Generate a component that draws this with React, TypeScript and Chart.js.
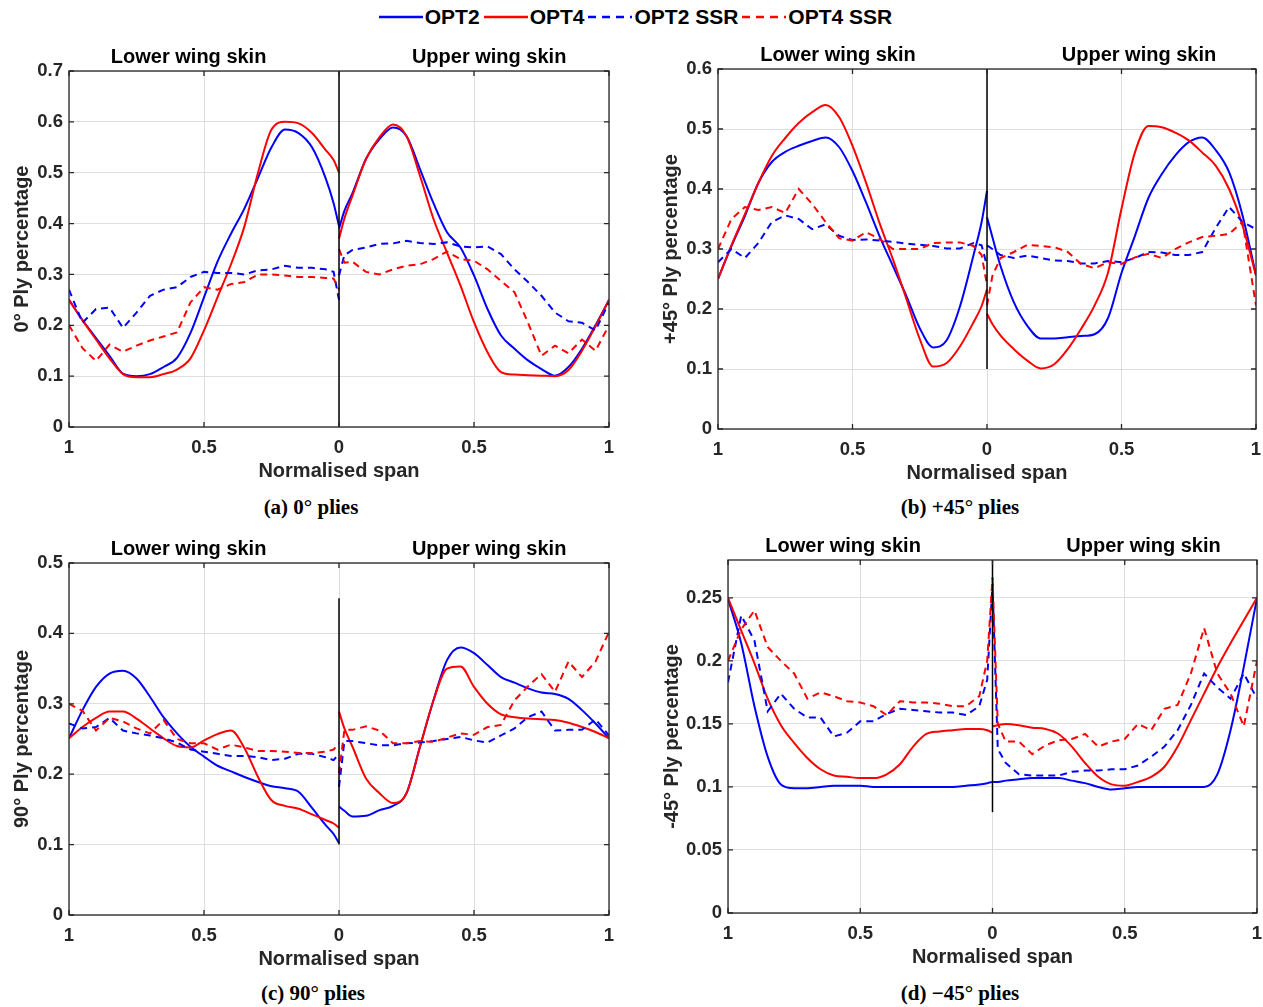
import React, { useEffect, useRef } from "react";
import { Chart, registerables } from "chart.js";

Chart.register(...registerables);

// Normalised span sample positions: lower skin (negative side, drawn as 1..0) then upper skin (0..1)
const SPAN = [
  -1, -0.95, -0.9, -0.85, -0.8, -0.75, -0.7, -0.65, -0.6, -0.55, -0.5, -0.45, -0.4, -0.35, -0.3, -0.25, -0.2, -0.15, -0.1, -0.05, -0.02, 0,
  0, 0.02, 0.05, 0.1, 0.15, 0.2, 0.25, 0.3, 0.35, 0.4, 0.45, 0.5, 0.55, 0.6, 0.65, 0.7, 0.75, 0.8, 0.85, 0.9, 0.95, 1,
];

const SERIES_NAMES = ["OPT2", "OPT4", "OPT2 SSR", "OPT4 SSR"];

// (a) 0° plies
const A_OPT2 = [0.25, 0.21, 0.175, 0.14, 0.105, 0.1, 0.104, 0.118, 0.136, 0.185, 0.255, 0.325, 0.38, 0.43, 0.49, 0.55, 0.585, 0.578, 0.55, 0.49, 0.44, 0.395,
  0.39, 0.425, 0.46, 0.527, 0.566, 0.589, 0.572, 0.507, 0.44, 0.383, 0.353, 0.298, 0.232, 0.18, 0.154, 0.131, 0.114, 0.101, 0.118, 0.154, 0.2, 0.25];
const A_OPT4 = [0.25, 0.21, 0.172, 0.135, 0.104, 0.098, 0.098, 0.104, 0.113, 0.135, 0.19, 0.255, 0.32, 0.395, 0.5, 0.585, 0.6, 0.597, 0.578, 0.545, 0.525, 0.5,
  0.37, 0.41, 0.455, 0.527, 0.57, 0.595, 0.572, 0.494, 0.409, 0.343, 0.278, 0.206, 0.147, 0.108, 0.103, 0.102, 0.101, 0.1, 0.112, 0.15, 0.198, 0.25];
const A_OPT2_SSR = [0.27, 0.205, 0.232, 0.235, 0.195, 0.225, 0.258, 0.27, 0.275, 0.295, 0.305, 0.303, 0.303, 0.3, 0.308, 0.31, 0.317, 0.313, 0.313, 0.31, 0.305, 0.25,
  0.298, 0.338, 0.348, 0.353, 0.36, 0.361, 0.366, 0.362, 0.36, 0.363, 0.355, 0.353, 0.355, 0.34, 0.31, 0.285, 0.258, 0.225, 0.208, 0.205, 0.19, 0.245];
const A_OPT4_SSR = [0.2, 0.155, 0.13, 0.162, 0.148, 0.16, 0.17, 0.178, 0.186, 0.245, 0.275, 0.27, 0.281, 0.285, 0.3, 0.3, 0.298, 0.295, 0.295, 0.293, 0.292, 0.27,
  0.35, 0.323, 0.325, 0.305, 0.3, 0.31, 0.317, 0.32, 0.33, 0.345, 0.33, 0.327, 0.31, 0.287, 0.265, 0.205, 0.14, 0.16, 0.145, 0.172, 0.15, 0.2];

// (b) +45° plies
const B_OPT2 = [0.25, 0.305, 0.355, 0.41, 0.445, 0.462, 0.472, 0.48, 0.486, 0.47, 0.43, 0.378, 0.322, 0.272, 0.222, 0.168, 0.136, 0.148, 0.205, 0.29, 0.345, 0.397,
  0.353, 0.32, 0.272, 0.211, 0.172, 0.151, 0.151, 0.153, 0.155, 0.158, 0.185, 0.26, 0.322, 0.385, 0.425, 0.456, 0.478, 0.486, 0.465, 0.428, 0.356, 0.256];
const B_OPT4 = [0.25, 0.306, 0.358, 0.41, 0.455, 0.485, 0.51, 0.528, 0.54, 0.52, 0.472, 0.411, 0.344, 0.283, 0.217, 0.15, 0.104, 0.11, 0.138, 0.178, 0.205, 0.233,
  0.192, 0.175, 0.156, 0.133, 0.114, 0.101, 0.108, 0.133, 0.167, 0.206, 0.261, 0.367, 0.461, 0.505, 0.503, 0.494, 0.481, 0.461, 0.439, 0.4, 0.339, 0.256];
const B_OPT2_SSR = [0.278, 0.3, 0.285, 0.31, 0.345, 0.356, 0.35, 0.333, 0.341, 0.322, 0.315, 0.316, 0.314, 0.312, 0.309, 0.307, 0.305, 0.301, 0.301, 0.31, 0.306, 0.272,
  0.306, 0.3, 0.29, 0.285, 0.289, 0.285, 0.281, 0.28, 0.276, 0.276, 0.28, 0.278, 0.285, 0.295, 0.294, 0.29, 0.29, 0.295, 0.335, 0.37, 0.345, 0.333];
const B_OPT4_SSR = [0.3, 0.35, 0.37, 0.365, 0.37, 0.36, 0.4, 0.375, 0.345, 0.318, 0.314, 0.328, 0.317, 0.3, 0.3, 0.3, 0.31, 0.311, 0.311, 0.305, 0.29, 0.24,
  0.206, 0.255, 0.285, 0.295, 0.307, 0.305, 0.303, 0.295, 0.275, 0.268, 0.278, 0.275, 0.286, 0.292, 0.285, 0.3, 0.311, 0.32, 0.322, 0.325, 0.345, 0.206];

// (c) 90° plies
const C_OPT2 = [0.251, 0.291, 0.324, 0.343, 0.347, 0.336, 0.31, 0.281, 0.258, 0.239, 0.225, 0.212, 0.204, 0.196, 0.189, 0.183, 0.18, 0.175, 0.152, 0.128, 0.115, 0.102,
  0.154, 0.148, 0.14, 0.141, 0.149, 0.155, 0.173, 0.239, 0.305, 0.362, 0.38, 0.372, 0.355, 0.338, 0.33, 0.322, 0.316, 0.314, 0.307, 0.291, 0.272, 0.251];
const C_OPT4 = [0.251, 0.267, 0.28, 0.289, 0.289, 0.279, 0.265, 0.251, 0.24, 0.238, 0.248, 0.257, 0.262, 0.237, 0.196, 0.163, 0.155, 0.151, 0.143, 0.135, 0.13, 0.124,
  0.289, 0.265, 0.239, 0.194, 0.173, 0.159, 0.173, 0.239, 0.305, 0.35, 0.353, 0.324, 0.3, 0.285, 0.281, 0.279, 0.278, 0.277, 0.273, 0.267, 0.26, 0.251];
const C_OPT2_SSR = [0.272, 0.265, 0.267, 0.28, 0.262, 0.258, 0.255, 0.251, 0.245, 0.235, 0.232, 0.229, 0.226, 0.226, 0.224, 0.22, 0.222, 0.229, 0.229, 0.224, 0.22, 0.229,
  0.182, 0.247, 0.247, 0.244, 0.241, 0.241, 0.244, 0.245, 0.247, 0.25, 0.253, 0.248, 0.245, 0.255, 0.265, 0.281, 0.289, 0.262, 0.263, 0.263, 0.278, 0.255];
const C_OPT4_SSR = [0.3, 0.29, 0.262, 0.28, 0.275, 0.265, 0.258, 0.277, 0.25, 0.244, 0.244, 0.235, 0.242, 0.238, 0.233, 0.233, 0.232, 0.23, 0.23, 0.232, 0.235, 0.244,
  0.201, 0.263, 0.263, 0.268, 0.262, 0.244, 0.244, 0.247, 0.246, 0.252, 0.258, 0.256, 0.267, 0.27, 0.305, 0.325, 0.342, 0.317, 0.36, 0.338, 0.36, 0.402];

// (d) -45° plies
const D_OPT2 = [0.249, 0.214, 0.164, 0.124, 0.102, 0.099, 0.099, 0.1, 0.101, 0.101, 0.101, 0.1, 0.1, 0.1, 0.1, 0.1, 0.1, 0.1, 0.101, 0.102, 0.103, 0.104,
  0.104, 0.104, 0.105, 0.106, 0.107, 0.107, 0.107, 0.105, 0.103, 0.1, 0.098, 0.099, 0.1, 0.1, 0.1, 0.1, 0.1, 0.1, 0.11, 0.145, 0.195, 0.25];
const D_OPT4 = [0.25, 0.224, 0.198, 0.17, 0.149, 0.135, 0.123, 0.114, 0.109, 0.108, 0.107, 0.107, 0.11, 0.118, 0.132, 0.142, 0.144, 0.145, 0.146, 0.146, 0.145, 0.143,
  0.148, 0.149, 0.15, 0.149, 0.147, 0.146, 0.142, 0.132, 0.119, 0.108, 0.102, 0.101, 0.104, 0.108, 0.116, 0.132, 0.153, 0.174, 0.195, 0.214, 0.232, 0.25];
const D_OPT2_SSR = [0.183, 0.236, 0.216, 0.16, 0.174, 0.162, 0.155, 0.155, 0.14, 0.143, 0.152, 0.152, 0.158, 0.162, 0.161, 0.16, 0.159, 0.159, 0.157, 0.164, 0.185, 0.261,
  0.261, 0.13, 0.119, 0.11, 0.109, 0.109, 0.109, 0.112, 0.113, 0.113, 0.114, 0.114, 0.117, 0.124, 0.132, 0.145, 0.165, 0.19, 0.179, 0.17, 0.19, 0.17];
const D_OPT4_SSR = [0.2, 0.225, 0.24, 0.211, 0.2, 0.19, 0.17, 0.175, 0.172, 0.168, 0.167, 0.164, 0.157, 0.168, 0.167, 0.167, 0.166, 0.164, 0.164, 0.172, 0.2, 0.266,
  0.266, 0.15, 0.136, 0.136, 0.126, 0.133, 0.137, 0.138, 0.142, 0.132, 0.136, 0.138, 0.15, 0.145, 0.162, 0.165, 0.19, 0.226, 0.19, 0.174, 0.148, 0.2];

const X_TICKS = [-1, -0.5, 0, 0.5, 1];

const BLUE = "#0000ff";
const RED = "#ff0000";
const AX = "#262626";
const SANS = "'Liberation Sans', Arial, Helvetica, sans-serif";
const SERIF = "'Liberation Serif', 'Times New Roman', serif";

type Panel = {
  key: string;
  area: { L: number; T: number; R: number; B: number };
  yw: number;
  yMax: number;
  yStep: number;
  yTitle: string;
  divider: [number, number];
  wingAt: [number, number];
  opt2: number[];
  opt4: number[];
  ssr2: number[];
  ssr4: number[];
  caption: string;
  capX: number;
  capY: number;
};

const PANELS: Panel[] = [
  { key: "a", area: { L: 69, T: 71, R: 609, B: 427 }, yw: 69, yMax: 0.7, yStep: 0.1, yTitle: "0° Ply percentage",
    divider: [0, 0.7], wingAt: [-0.557, 0.556], opt2: A_OPT2, opt4: A_OPT4, ssr2: A_OPT2_SSR, ssr4: A_OPT4_SSR,
    caption: "(a) 0° plies", capX: 311, capY: 507 },
  { key: "b", area: { L: 718, T: 69, R: 1256, B: 429 }, yw: 69, yMax: 0.6, yStep: 0.1, yTitle: "+45° Ply percentage",
    divider: [0.1, 0.6], wingAt: [-0.554, 0.565], opt2: B_OPT2, opt4: B_OPT4, ssr2: B_OPT2_SSR, ssr4: B_OPT4_SSR,
    caption: "(b) +45° plies", capX: 960, capY: 507 },
  { key: "c", area: { L: 69, T: 563, R: 609, B: 915 }, yw: 69, yMax: 0.5, yStep: 0.1, yTitle: "90° Ply percentage",
    divider: [0.1, 0.45], wingAt: [-0.557, 0.556], opt2: C_OPT2, opt4: C_OPT4, ssr2: C_OPT2_SSR, ssr4: C_OPT4_SSR,
    caption: "(c) 90° plies", capX: 313, capY: 993 },
  { key: "d", area: { L: 728, T: 560, R: 1257, B: 913 }, yw: 78, yMax: 0.28, yStep: 0.05, yTitle: "-45° Ply percentage",
    divider: [0.08, 0.28], wingAt: [-0.565, 0.571], opt2: D_OPT2, opt4: D_OPT4, ssr2: D_OPT2_SSR, ssr4: D_OPT4_SSR,
    caption: "(d) \u221245° plies", capX: 960, capY: 993 },
];

const TOP_PAD = 32;
const RIGHT_PAD = 6;
const X_AXIS_H = 65;

function split(vals: number[]) {
  const n = SPAN.length / 2;
  const lower = SPAN.slice(0, n).map((x, i) => ({ x, y: vals[i] }));
  const upper = SPAN.slice(n).map((x, i) => ({ x, y: vals[n + i] }));
  return [lower, upper];
}

function fmt(v: number) {
  return String(Math.abs(Math.round(v * 1000) / 1000));
}

function PanelChart({ p }: { p: Panel }) {
  const ref = useRef<HTMLCanvasElement | null>(null);
  const x0 = p.area.L - p.yw;
  const y0 = p.area.T - TOP_PAD;
  const w = p.area.R + RIGHT_PAD - x0;
  const h = p.area.B + X_AXIS_H - y0;

  useEffect(() => {
    if (!ref.current) return;
    const datasets: any[] = [];
    datasets.push({
      label: "divider",
      data: [{ x: 0, y: p.divider[0] }, { x: 0, y: p.divider[1] }],
      borderColor: "#000000",
      borderWidth: 1.5,
      pointRadius: 0,
      order: 0,
    });
    const defs = [
      { vals: p.ssr4, color: RED, dash: [7, 5], order: 1, smooth: false, name: SERIES_NAMES[3] },
      { vals: p.ssr2, color: BLUE, dash: [7, 5], order: 2, smooth: false, name: SERIES_NAMES[2] },
      { vals: p.opt4, color: RED, dash: [], order: 3, smooth: true, name: SERIES_NAMES[1] },
      { vals: p.opt2, color: BLUE, dash: [], order: 4, smooth: true, name: SERIES_NAMES[0] },
    ];
    defs.forEach((d) => {
      split(d.vals).forEach((part, k) => {
        datasets.push({
          label: d.name + (k === 0 ? " lower" : " upper"),
          data: part,
          borderColor: d.color,
          borderWidth: 2,
          borderDash: d.dash,
          pointRadius: 0,
          tension: 0,
          cubicInterpolationMode: d.smooth ? "monotone" : "default",
          order: d.order,
        });
      });
    });

    const boxPlugin = {
      id: "boxTicks" + p.key,
      afterDatasetsDraw(chart: any) {
        const { ctx, chartArea: a, scales } = chart;
        ctx.save();
        ctx.strokeStyle = AX;
        ctx.lineWidth = 1.3;
        ctx.strokeRect(a.left, a.top, a.right - a.left, a.bottom - a.top);
        const tl = 5;
        ctx.beginPath();
        scales.y.ticks.forEach((t: any) => {
          const y = scales.y.getPixelForValue(t.value);
          ctx.moveTo(a.left, y);
          ctx.lineTo(a.left + tl, y);
          ctx.moveTo(a.right, y);
          ctx.lineTo(a.right - tl, y);
        });
        scales.x.ticks.forEach((t: any) => {
          const x = scales.x.getPixelForValue(t.value);
          ctx.moveTo(x, a.bottom);
          ctx.lineTo(x, a.bottom - tl);
          ctx.moveTo(x, a.top);
          ctx.lineTo(x, a.top + tl);
        });
        ctx.stroke();
        ctx.fillStyle = "#000000";
        ctx.font = `bold 20px ${SANS}`;
        ctx.textAlign = "center";
        ctx.textBaseline = "middle";
        ctx.fillText("Lower wing skin", scales.x.getPixelForValue(p.wingAt[0]), a.top - 13.5);
        ctx.fillText("Upper wing skin", scales.x.getPixelForValue(p.wingAt[1]), a.top - 13.5);
        ctx.restore();
      },
    };

    const chart = new Chart(ref.current, {
      type: "line",
      data: { datasets },
      plugins: [boxPlugin],
      options: {
        animation: false,
        responsive: false,
        devicePixelRatio: 1,
        layout: { padding: { top: TOP_PAD, right: RIGHT_PAD, left: 0, bottom: 0 } },
        plugins: { legend: { display: false }, tooltip: { enabled: false } },
        scales: {
          x: {
            type: "linear",
            min: -1,
            max: 1,
            afterBuildTicks: (s: any) => {
              s.ticks = X_TICKS.map((v) => ({ value: v }));
            },
            afterFit: (s: any) => {
              s.height = X_AXIS_H;
              s.paddingLeft = 0;
              s.paddingRight = 0;
            },
            grid: { color: "#dedede", lineWidth: 1, drawTicks: false },
            border: { display: false },
            ticks: {
              autoSkip: false,
              maxRotation: 0,
              padding: 10,
              color: AX,
              font: { family: SANS, size: 18.5, weight: "bold" },
              callback: (v: any) => fmt(Number(v)),
            },
            title: {
              display: true,
              text: "Normalised span",
              color: AX,
              font: { family: SANS, size: 20, weight: "bold" },
              padding: { top: 0, bottom: 9 },
            },
          },
          y: {
            type: "linear",
            min: 0,
            max: p.yMax,
            afterFit: (s: any) => {
              s.width = p.yw;
              s.paddingTop = 0;
              s.paddingBottom = 0;
            },
            grid: { color: "#dedede", lineWidth: 1, drawTicks: false },
            border: { display: false },
            ticks: {
              stepSize: p.yStep,
              includeBounds: false,
              autoSkip: false,
              padding: 6,
              color: AX,
              font: { family: SANS, size: 18.5, weight: "bold" },
              callback: (v: any) => fmt(Number(v)),
            },
            title: {
              display: true,
              text: p.yTitle,
              color: AX,
              font: { family: SANS, size: 20, weight: "bold" },
              padding: { top: 10, bottom: 0 },
            },
          },
        },
      } as any,
    });
    return () => chart.destroy();
  }, []);

  return (
    <>
      <canvas
        ref={ref}
        width={w}
        height={h}
        style={{ position: "absolute", left: x0, top: y0, width: w, height: h }}
      />
      <div
        style={{
          position: "absolute",
          left: p.capX - 200,
          top: p.capY - 12,
          width: 400,
          height: 24,
          lineHeight: "24px",
          textAlign: "center",
          fontFamily: SERIF,
          fontWeight: "bold",
          fontSize: 21,
          color: "#000",
        }}
      >
        {p.caption}
      </div>
    </>
  );
}

function LegendSample({ color, dashed }: { color: string; dashed: boolean }) {
  return (
    <svg width={44} height={8} style={{ display: "block" }}>
      <line
        x1={0}
        y1={4}
        x2={44}
        y2={4}
        stroke={color}
        strokeWidth={2.5}
        strokeDasharray={dashed ? "8,6" : undefined}
      />
    </svg>
  );
}

export default function App() {
  const items = [
    { name: SERIES_NAMES[0], color: BLUE, dashed: false },
    { name: SERIES_NAMES[1], color: RED, dashed: false },
    { name: SERIES_NAMES[2], color: BLUE, dashed: true },
    { name: SERIES_NAMES[3], color: RED, dashed: true },
  ];
  return (
    <div
      style={{
        position: "absolute",
        left: 0,
        top: 0,
        width: 1263,
        height: 1007,
        overflow: "hidden",
        background: "#ffffff",
      }}
    >
      <div
        style={{
          position: "absolute",
          left: 0,
          top: 5,
          width: 1275,
          height: 24,
          display: "flex",
          justifyContent: "center",
          alignItems: "center",
        }}
      >
        {items.map((it) => (
          <div key={it.name} style={{ display: "flex", alignItems: "center", marginRight: 4 }}>
            <LegendSample color={it.color} dashed={it.dashed} />
            <span
              style={{
                marginLeft: 2,
                fontFamily: SANS,
                fontWeight: "bold",
                fontSize: 21,
                lineHeight: "24px",
                color: "#000",
              }}
            >
              {it.name}
            </span>
          </div>
        ))}
      </div>
      {PANELS.map((p) => (
        <PanelChart key={p.key} p={p} />
      ))}
    </div>
  );
}
